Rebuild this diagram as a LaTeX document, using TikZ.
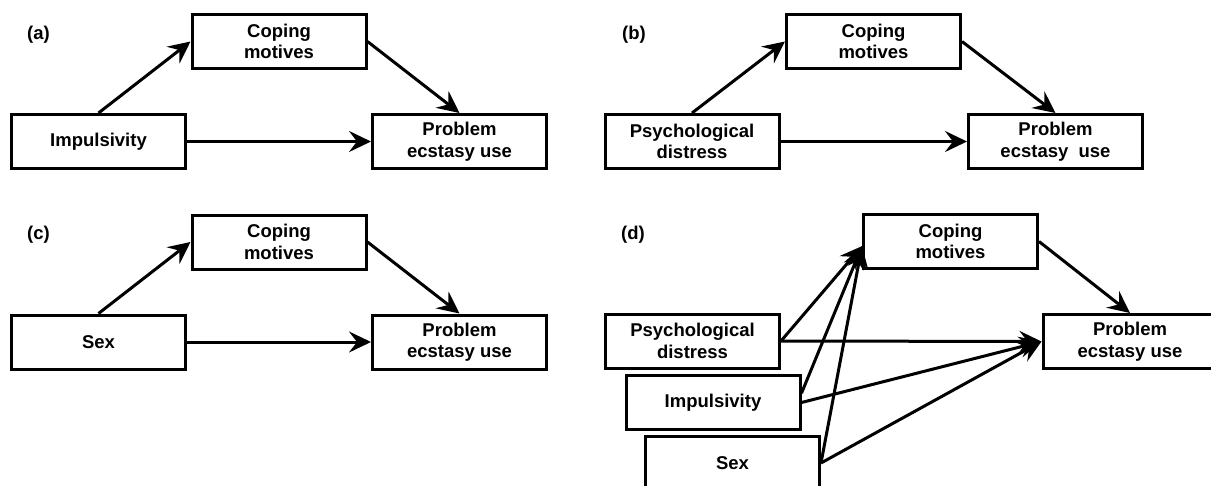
\documentclass[tikz,border=0pt]{standalone}
\usepackage{fontspec}
\setmainfont{Liberation Sans}
\usetikzlibrary{arrows.meta}

\begin{document}
\begin{tikzpicture}[x=1pt,y=-1pt,
	box/.style={draw, line width=3pt, minimum width=174pt, minimum height=54pt, inner sep=0pt, align=center, font=\fontsize{18.5}{21.5}\selectfont\bfseries},
	tag/.style={anchor=west, inner sep=0pt, font=\fontsize{18.5}{21.5}\selectfont\bfseries},
	arr/.style={-{Stealth[length=22pt,width=21pt,inset=8pt]}, line width=3pt}]
	\clip (0,0) rectangle (1211,485);% frame of the figure
	% (a)
	\node[tag] (taga) at (27,35) {(a)};
	\node[box] (cpa) at (279,41.5) {Coping\\motives};
	\node[box] (ima) at (98.5,141.5) {Impulsivity};
	\node[box] (pra) at (459.5,141.5) {Problem\\ecstasy use};
	\draw[arr] (ima.north) -- (cpa.west);
	\draw[arr] (cpa.east) -- (pra.north);
	\draw[arr] (ima.east) -- (pra.west);
	% (b)
	\node[tag] (tagb) at (622,35) {(b)};
	\node[box] (cpb) at (873.5,41.5) {Coping\\motives};
	\node[box] (psb) at (692,141.5) {Psychological\\distress};
	\node[box] (prb) at (1055.5,141.5) {Problem\\ecstasy\ \ use};
	\draw[arr] (psb.north) -- (cpb.west);
	\draw[arr] (cpb.east) -- (prb.north);
	\draw[arr] (psb.east) -- (prb.west);
	% (c)
	\node[tag] (tagc) at (27,235) {(c)};
	\node[box] (cpc) at (279,242) {Coping\\motives};
	\node[box] (sxc) at (98.5,342) {Sex};
	\node[box] (prc) at (459.5,342) {Problem\\ecstasy use};
	\draw[arr] (sxc.north) -- (cpc.west);
	\draw[arr] (cpc.east) -- (prc.north);
	\draw[arr] (sxc.east) -- (prc.west);
	% (d)
	\node[tag] (tagd) at (621,235) {(d)};
	\node[box] (cpd) at (950.5,241.5) {Coping\\motives};
	\node[box] (psd) at (692.5,341) {Psychological\\distress};
	\node[box] (imd) at (713,402.5) {Impulsivity};
	\node[box] (sxd) at (732.5,463) {Sex};
	\node[box] (prd) at (1130,341.5) {Problem\\ecstasy use};
	\draw[arr] (psd.east) -- (cpd.183);
	\draw[arr] (imd.6) -- (cpd.183);
	\draw[arr] (sxd.east) -- (cpd.183);
	\draw[arr] (psd.east) -- (prd.west);
	\draw[arr] (imd.east) -- (prd.west);
	\draw[arr] (sxd.east) -- (prd.west);
	\draw[arr] (cpd.east) -- (prd.north);
\end{tikzpicture}
\end{document}
